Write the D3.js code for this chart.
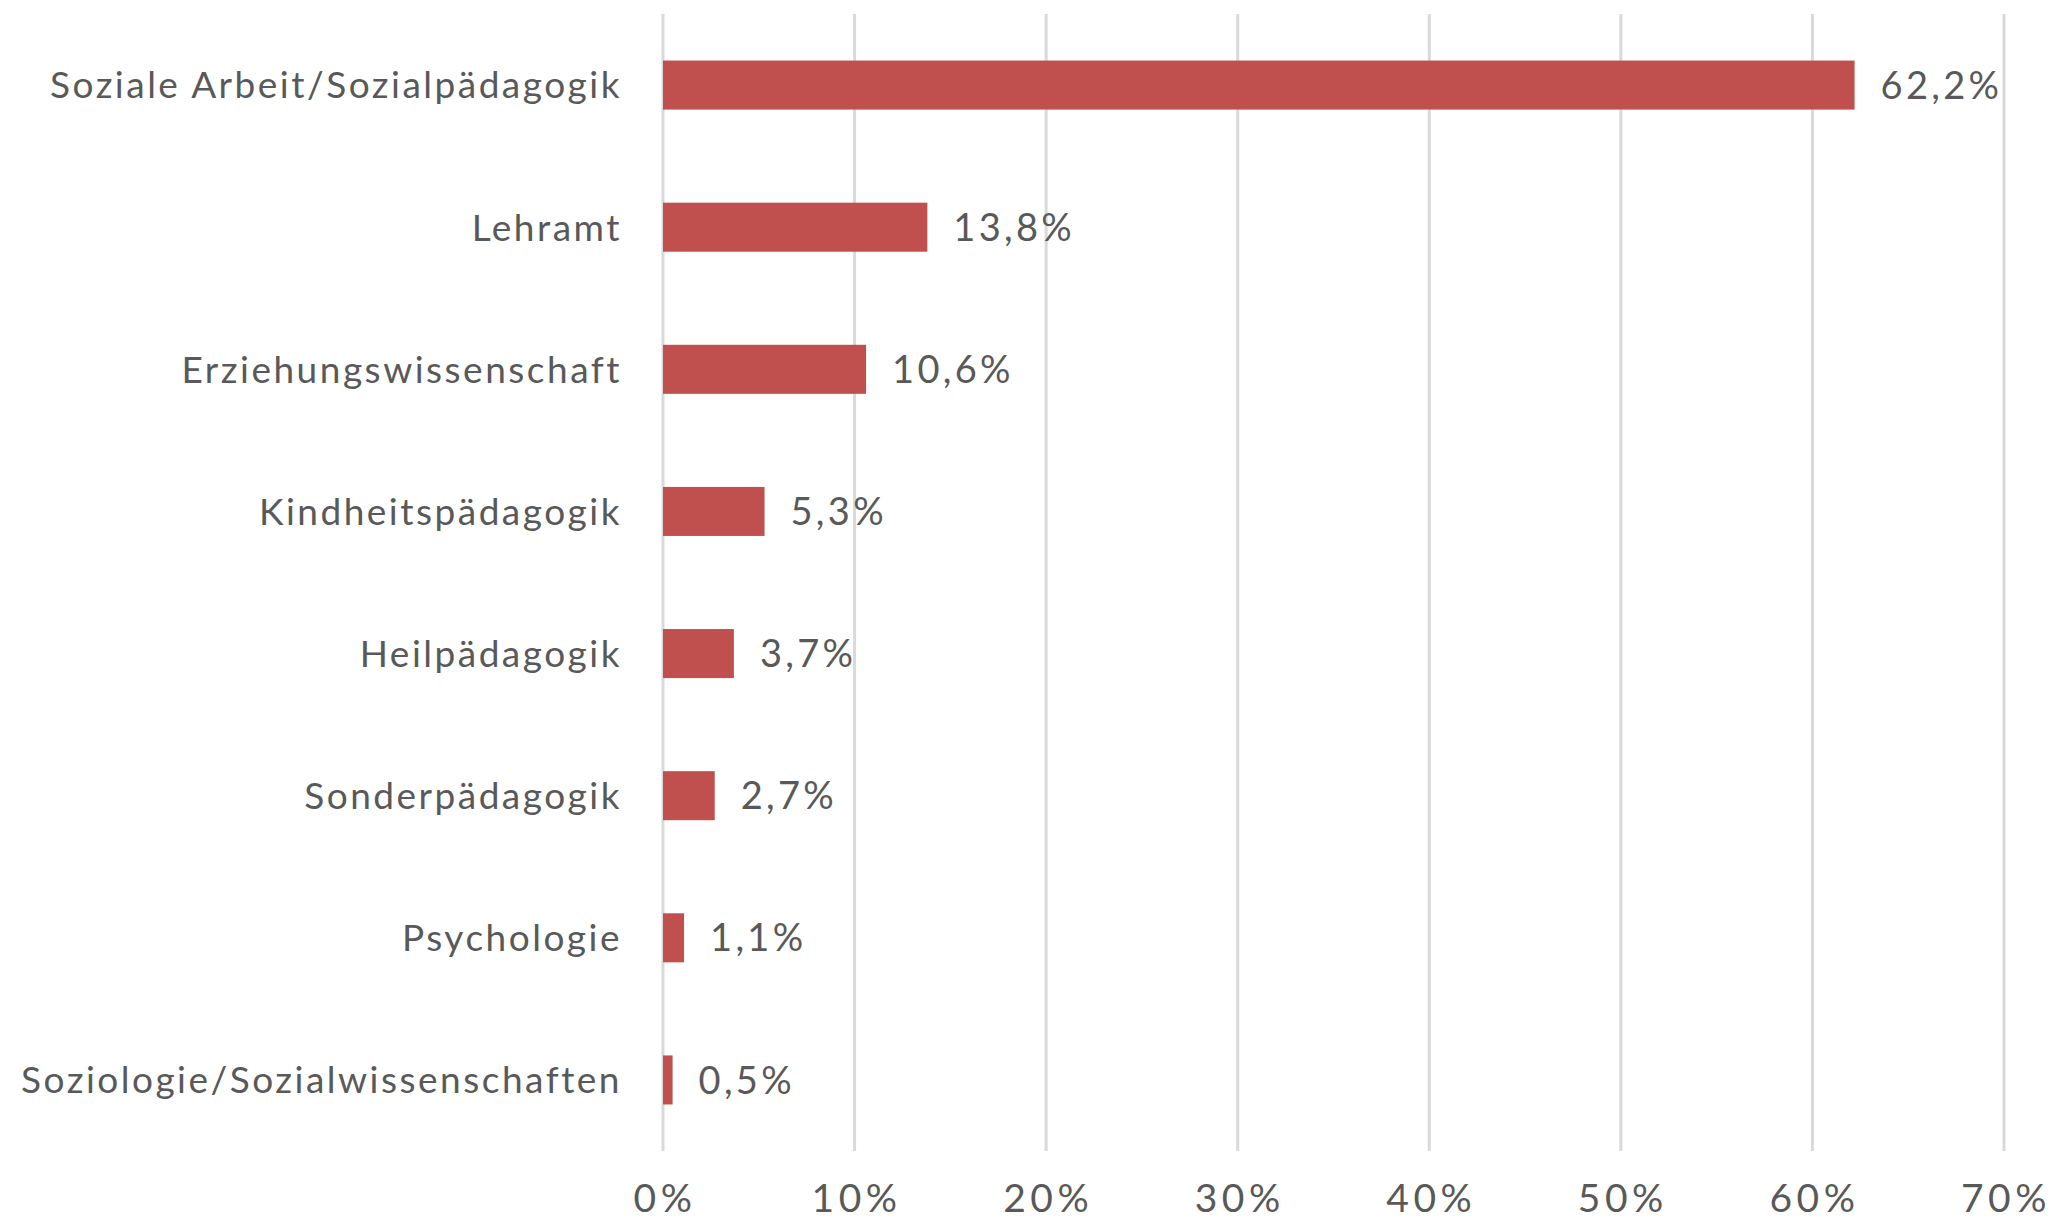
<!DOCTYPE html>
<html>
<head>
<meta charset="utf-8">
<script src="https://cdn.jsdelivr.net/npm/d3@7"></script>
<style>
  body { margin: 0; background: #fff; }
  svg text { font-family: Lato, "Open Sans", sans-serif; fill: #595959; }
</style>
</head>
<body>
<svg width="2056" height="1222"></svg>
<script>
var categories = ["Soziale Arbeit/Sozialpädagogik", "Lehramt", "Erziehungswissenschaft",
    "Kindheitspädagogik", "Heilpädagogik", "Sonderpädagogik", "Psychologie",
    "Soziologie/Sozialwissenschaften"];
var values = [62.2, 13.8, 10.6, 5.3, 3.7, 2.7, 1.1, 0.5];
var ticks = [0, 10, 20, 30, 40, 50, 60, 70];

var svg = d3.select("svg");
var de = d3.formatLocale({decimal: ",", thousands: ".", grouping: [3], currency: ["", " €"]});
var fmt = de.format(".1f");

var x = d3.scaleLinear().domain([0, 70]).range([663, 2004]);
var y = d3.scaleBand().domain(categories).range([14, 1151])
    .paddingInner(0.655).paddingOuter(0.3275);

// gridlines
svg.append("g").selectAll("line")
    .data(ticks)
    .enter()
    .append("line")
    .attr("x1", function (d) {return x(d);})
    .attr("x2", function (d) {return x(d);})
    .attr("y1", 14)
    .attr("y2", 1151)
    .attr("stroke", "#d9d9d9")
    .attr("stroke-width", 3);

// bars
svg.append("g").selectAll("rect")
    .data(values)
    .enter()
    .append("rect")
    .attr("x", x(0))
    .attr("y", function (d, i) {return y(categories[i]);})
    .attr("width", function (d) {return x(d) - x(0);})
    .attr("height", y.bandwidth())
    .attr("fill", "#c0504d");

// value labels
svg.append("g").selectAll("text")
    .data(values)
    .enter()
    .append("text")
    .attr("x", function (d) {return x(d) + 26;})
    .attr("y", function (d, i) {return y(categories[i]) + y.bandwidth() / 2;})
    .attr("dy", "0.36em")
    .attr("font-size", 38)
    .attr("letter-spacing", 3.3)
    .text(function (d) {return fmt(d) + "%";});

// category labels
svg.append("g").selectAll("text")
    .data(categories)
    .enter()
    .append("text")
    .attr("x", 622)
    .attr("y", function (d) {return y(d) + y.bandwidth() / 2;})
    .attr("dy", "0.36em")
    .attr("text-anchor", "end")
    .attr("font-size", 37)
    .attr("letter-spacing", 2.5)
    .text(function (d) {return d;});

// x tick labels
svg.append("g").selectAll("text")
    .data(ticks)
    .enter()
    .append("text")
    .attr("x", function (d) {return x(d) + 2;})
    .attr("y", 1212)
    .attr("text-anchor", "middle")
    .attr("font-size", 39)
    .attr("letter-spacing", 4.5)
    .text(function (d) {return d + "%";});
</script>
</body>
</html>
